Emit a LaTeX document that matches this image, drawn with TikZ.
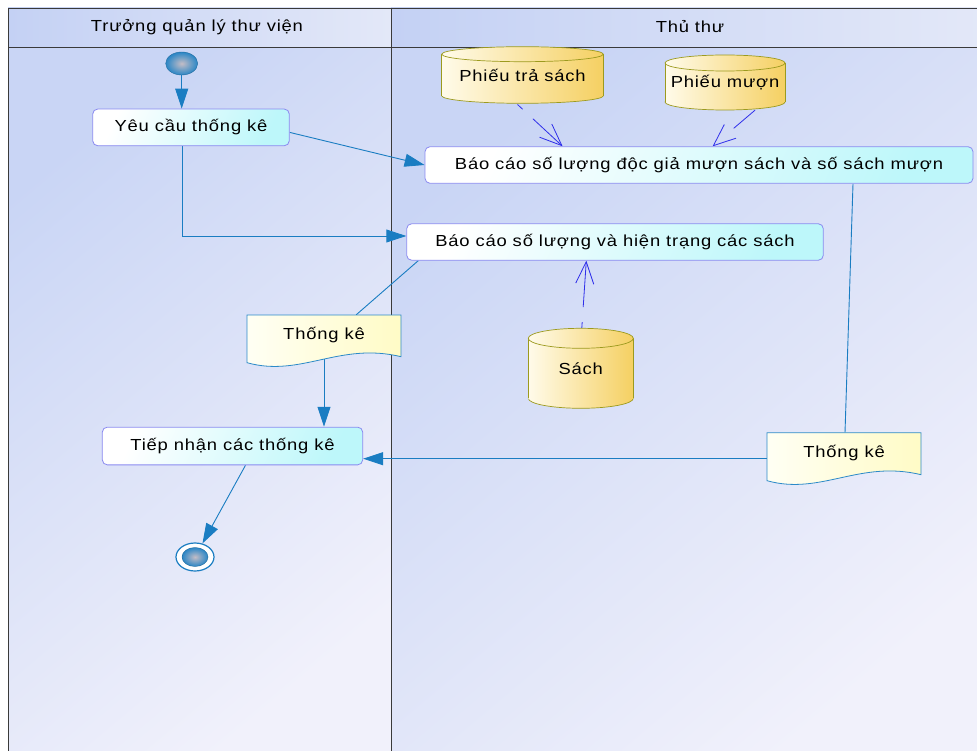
\documentclass[tikz,border=0pt]{standalone}
\usepackage{fontspec}
\setmainfont{Liberation Sans}[FakeStretch=1.15,LetterSpace=5]
\usetikzlibrary{arrows.meta,calc,shapes.geometric}

\definecolor{laneA}{HTML}{C9D5F5}
\definecolor{laneB}{HTML}{F1F1FB}
\definecolor{headA}{HTML}{C4D1F4}
\definecolor{headB}{HTML}{E3E8F8}
\definecolor{frameline}{HTML}{3A3A3A}
\definecolor{actborder}{HTML}{8A8AF0}
\definecolor{actcyan}{HTML}{BDF7FA}
\definecolor{actmid}{HTML}{E4FCFD}
\definecolor{flow}{HTML}{1A7DC2}
\definecolor{objflow}{HTML}{2F2FEA}
\definecolor{cylL}{HTML}{FFFBEA}
\definecolor{cylR}{HTML}{F5D062}
\definecolor{cylline}{HTML}{9C9A1E}
\definecolor{docA}{HTML}{FFFFF4}
\definecolor{docB}{HTML}{FFFBC6}
\definecolor{docline}{HTML}{2C8AC8}
\definecolor{ballIn}{HTML}{C4BDC6}
\definecolor{ballOut}{HTML}{2A86C6}

\pgfdeclarelayer{lanes}
\pgfdeclarelayer{edges}
\pgfsetlayers{lanes,edges,main}

% data store drawn as an upright cylinder: name, cx, cy, width, height, end radius, text
\newcommand\datastore[7]{%
  \pgfmathsetmacro\dsl{#2-#4/2}\pgfmathsetmacro\dsr{#2+#4/2}%
  \pgfmathsetmacro\dst{#3-#5/2+#6}\pgfmathsetmacro\dsb{#3+#5/2-#6}%
  \pgfmathsetmacro\dsrx{#4/2}%
  \path[cylshade,draw=cylline,line width=0.7pt] (#2,\dsb) ellipse [x radius=\dsrx pt, y radius=#6pt];
  \path[cylshade] (\dsl,\dst) rectangle (\dsr,\dsb);
  \draw[cylline,line width=0.7pt] (\dsl,\dst) -- (\dsl,\dsb) (\dsr,\dst) -- (\dsr,\dsb);
  \path[cylshade,draw=cylline,line width=0.7pt] (#2,\dst) ellipse [x radius=\dsrx pt, y radius=#6pt];
  \node[txt,inner sep=0pt,minimum width=#4pt,minimum height=#5pt] (#1) at (#2,#3) {#7};
}

% document sheet with a wavy lower edge: name, left x, right x, top y, lower-left y, text
\newcommand\docsheet[6]{%
  \pgfmathsetmacro\dcw{#3-#2}%
  \path[left color=docA,right color=docB,draw=docline,line width=0.8pt]
    (#2,#4) -- (#3,#4) -- (#3,#5-6)
    .. controls ({#2+0.6*\dcw},#5-21) and ({#2+0.35*\dcw},#5+15) .. (#2,#5) -- cycle;
  \node[txt,inner sep=0pt,minimum width=\dcw pt,minimum height={#5-#4-8}]
    (#1) at ({(#2+#3)/2},{(#4+#5-8)/2}) {#6};
}

\begin{document}
\begin{tikzpicture}[x=1pt,y=-1pt,
  txt/.style={font=\fontsize{16pt}{19pt}\selectfont,text=black},
  cylshade/.style={left color=cylL,right color=cylR},
  activity/.style={txt,rectangle,rounded corners=5pt,draw=actborder,line width=0.8pt,
    left color=white,middle color=actmid,right color=actcyan,shading angle=65,inner sep=0pt},
  flowline/.style={draw=flow,line width=0.9pt,-{Triangle[length=20pt,width=13pt]}},
  plainflow/.style={draw=flow,line width=0.9pt},
  objline/.style={draw=objflow,line width=0.8pt,-{Straight Barb[length=22pt,width=18pt]}},
  ball/.style={ellipse,inner sep=0pt,inner color=ballIn,outer color=ballOut,draw=ballOut!80!black,line width=0.4pt}
]
\useasboundingbox (0,0) rectangle (977,751);

\begin{pgfonlayer}{lanes}
  \fill[white] (0,0) rectangle (977,751);
  % lane bodies
  \path[top color=laneA,bottom color=laneB,shading angle=40] (8,47) rectangle (391,760);
  \path[top color=laneA,bottom color=laneB,shading angle=40] (391,47) rectangle (985,760);
  % lane headers
  \path[left color=headA,right color=headB] (8,8) rectangle (391,47);
  \path[left color=headA,right color=headB] (391,8) rectangle (985,47);
  % frame
  \draw[frameline,line width=0.9pt] (985,8) -- (8,8) -- (8,760);
  \draw[frameline,line width=0.9pt] (8,47) -- (985,47);
  \draw[frameline,line width=0.9pt] (391,8) -- (391,760);
\end{pgfonlayer}

\node[txt] (h1) at (197,27) {Trưởng quản lý thư viện};
\node[txt] (h2) at (690,27) {Thủ thư};

% activities
\node[ball,minimum width=32pt,minimum height=23pt] (sn) at (181.7,63.5) {};
\node[activity,minimum width=196.6pt,minimum height=36.7pt] (yc) at (191,127.4) {Yêu cầu thống kê};
\node[activity,minimum width=548pt,minimum height=36.6pt] (bc1) at (699,165) {Báo cáo số lượng độc giả mượn sách và số sách mượn};
\node[activity,minimum width=416.6pt,minimum height=36.5pt] (bc2) at (615,242) {Báo cáo số lượng và hiện trạng các sách};
\node[activity,minimum width=260.4pt,minimum height=37.7pt] (tn) at (232.5,446) {Tiếp nhận các thống kê};
\node[ellipse,inner sep=0pt,minimum width=38pt,minimum height=28pt,fill=white,draw=flow,line width=1.2pt] (en) at (195,557) {};
\node[ball,minimum width=26pt,minimum height=19pt] (eni) at (195,557) {};

% data stores
\datastore{pts}{522.5}{75}{161.6}{56.6}{7.5}{Phiếu trả sách}
\datastore{pm}{725}{82.5}{120}{55}{8}{Phiếu mượn}
\datastore{sach}{580.8}{368.3}{105}{80}{10}{Sách}

% reports
\docsheet{doc1}{247}{401}{315}{362.7}{Thống kê}
\docsheet{doc2}{767}{921}{432.7}{480.7}{Thống kê}

\begin{pgfonlayer}{edges}
  \draw[flowline] (sn.south) -- (sn.south |- yc.north);
  \draw[flowline] ($(yc.east)+(0,5)$) -- (bc1.west);
  \draw[flowline] ($(yc.south)+(-9,0)$) |- ($(bc2.west)+(0,-6)$);
  \draw[plainflow] ($(bc2.south west)+(12,0)$) -- ($(doc1.north east)+(-45,0)$);
  \draw[flowline] (doc1.south) -- (doc1.south |- tn.north);
  \draw[plainflow] ($(bc1.south)+(154,0)$) -- ($(doc2.north)+(1,0)$);
  \draw[flowline] ($(doc2.west)+(0,6)$) coordinate (d2w) -- (d2w -| tn.east);
  \draw[flowline] ($(tn.south)+(13,0)$) -- (en);
  \draw[objline,dash pattern=on 7pt off 14pt on 90pt off 0pt]
    ($(pts.south)+(-5,1)$) -- ($(bc1.north west)+(138,0)$);
  \draw[objline,dash pattern=on 28pt off 40pt]
    ($(pm.south)+(30,0)$) -- ($(bc1.north west)+(288,0)$);
  \draw[objline,dash pattern=on 6pt off 15pt on 90pt off 0pt]
    ($(sach.north)+(1,0)$) -- ($(bc2.south west)+(180,0)$);
\end{pgfonlayer}
\end{tikzpicture}
\end{document}
